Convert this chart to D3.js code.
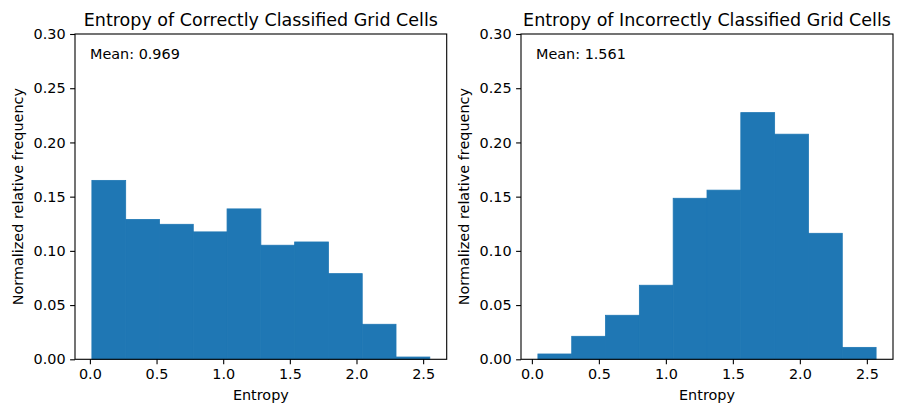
<!DOCTYPE html>
<html>
<head>
<meta charset="utf-8">
<script src="https://d3js.org/d3.v7.min.js"></script>
<style>
  body, html { margin: 0; padding: 0; background: #fff; }
  svg text { font-family: "DejaVu Sans", sans-serif; fill: #000; }
</style>
</head>
<body>
<div id="chart"></div>
<script>
// ---- data ----
var titles = ["Entropy of Correctly Classified Grid Cells", "Entropy of Incorrectly Classified Grid Cells"];
var meanLabels = ["Mean: 0.969", "Mean: 1.561"];
var binStarts = [0.015, 0.045];
var binEnds = [2.55, 2.569];
var correctFreq = [0.165, 0.129, 0.1245, 0.1175, 0.1387, 0.1052, 0.1082, 0.079, 0.0323, 0.0021];
var incorrectFreq = [0.0049, 0.0212, 0.0406, 0.0683, 0.1485, 0.156, 0.2275, 0.2076, 0.1162, 0.011];
var xTicks = [0.0, 0.5, 1.0, 1.5, 2.0, 2.5];
var yTicks = [0.00, 0.05, 0.10, 0.15, 0.20, 0.25, 0.30];
var series = [correctFreq, incorrectFreq];

var W = 897, H = 409;
var svg = d3.select("#chart").append("svg")
    .attr("width", W).attr("height", H);

var panels = [{left: 75, right: 446.7}, {left: 521, right: 893}];
var plotTop = 34, plotBottom = 359.3;
var smallFont = "14.4px", titleFont = "17.5px";

panels.forEach(function(p, i) {
    var vals = series[i];
    var n = vals.length;
    var w = (binEnds[i] - binStarts[i]) / n;
    var bins = vals.map(function(v, k) {
        return {x0: binStarts[i] + k * w, x1: binStarts[i] + (k + 1) * w, v: v};
    });
    var span = binEnds[i] - binStarts[i];
    var x = d3.scaleLinear()
        .domain([binStarts[i] - 0.05 * span, binEnds[i] + 0.05 * span])
        .range([p.left, p.right]);
    var y = d3.scaleLinear().domain([0, 0.30]).range([plotBottom, plotTop]);

    var g = svg.append("g");

    g.selectAll("rect.bar").data(bins).enter().append("rect")
        .attr("class", "bar")
        .attr("x", function(d) { return x(d.x0); })
        .attr("width", function(d) { return x(d.x1) - x(d.x0); })
        .attr("y", function(d) { return y(d.v); })
        .attr("height", function(d) { return y(0) - y(d.v); })
        .attr("fill", "#1f77b4")
        .attr("stroke", "#1f77b4")
        .attr("stroke-width", 0.8);

    // axes
    var xAxis = d3.axisBottom(x).tickValues(xTicks).tickFormat(d3.format(".1f"))
        .tickSize(4.9).tickPadding(4.5);
    var gx = g.append("g").attr("transform", "translate(0," + plotBottom + ")").call(xAxis);
    var yAxis = d3.axisLeft(y).tickValues(yTicks).tickFormat(d3.format(".2f"))
        .tickSize(4.9).tickPadding(4.5);
    var gy = g.append("g").attr("transform", "translate(" + p.left + ",0)").call(yAxis);
    [gx, gy].forEach(function(a) {
        a.select(".domain").remove();
        a.selectAll(".tick line").attr("stroke", "#000").attr("stroke-width", 1.1);
        a.selectAll(".tick text").attr("font-size", smallFont)
            .attr("font-family", "DejaVu Sans, sans-serif").attr("fill", "#000");
    });

    // spines
    g.append("rect")
        .attr("x", p.left).attr("y", plotTop)
        .attr("width", p.right - p.left).attr("height", plotBottom - plotTop)
        .attr("fill", "none").attr("stroke", "#000").attr("stroke-width", 1.1);

    var cx = (p.left + p.right) / 2;
    g.append("text").attr("x", cx).attr("y", 26)
        .attr("text-anchor", "middle").attr("font-size", titleFont)
        .text(titles[i]);

    g.append("text").attr("x", cx).attr("y", 400)
        .attr("text-anchor", "middle").attr("font-size", smallFont)
        .text("Entropy");

    g.append("text")
        .attr("transform", "translate(" + (p.left - 52) + "," + ((plotTop + plotBottom) / 2) + ") rotate(-90)")
        .attr("text-anchor", "middle").attr("font-size", smallFont)
        .text("Normalized relative frequency");

    g.append("text").attr("x", p.left + 15).attr("y", 59)
        .attr("font-size", smallFont)
        .text(meanLabels[i]);
});
</script>
</body>
</html>
